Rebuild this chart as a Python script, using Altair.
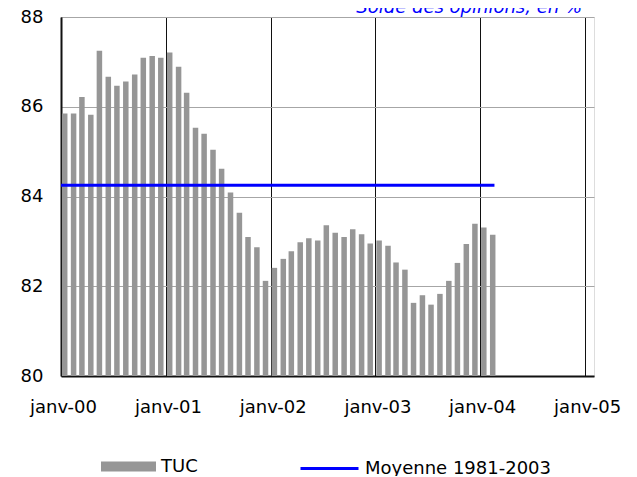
import altair as alt
import pandas as pd

# ---- data ----
months = [
    "2000-01-01", "2000-02-01", "2000-03-01", "2000-04-01", "2000-05-01", "2000-06-01",
    "2000-07-01", "2000-08-01", "2000-09-01", "2000-10-01", "2000-11-01", "2000-12-01",
    "2001-01-01", "2001-02-01", "2001-03-01", "2001-04-01", "2001-05-01", "2001-06-01",
    "2001-07-01", "2001-08-01", "2001-09-01", "2001-10-01", "2001-11-01", "2001-12-01",
    "2002-01-01", "2002-02-01", "2002-03-01", "2002-04-01", "2002-05-01", "2002-06-01",
    "2002-07-01", "2002-08-01", "2002-09-01", "2002-10-01", "2002-11-01", "2002-12-01",
    "2003-01-01", "2003-02-01", "2003-03-01", "2003-04-01", "2003-05-01", "2003-06-01",
    "2003-07-01", "2003-08-01", "2003-09-01", "2003-10-01", "2003-11-01", "2003-12-01",
    "2004-01-01", "2004-02-01",
]
tuc = [
    85.85, 85.85, 86.22, 85.82, 87.25, 86.67, 86.47, 86.56, 86.72, 87.09, 87.13, 87.09,
    87.21, 86.89, 86.31, 85.53, 85.40, 85.04, 84.62, 84.09, 83.64, 83.10, 82.87, 82.12,
    82.41, 82.61, 82.78, 82.98, 83.07, 83.02, 83.36, 83.19, 83.10, 83.27, 83.16, 82.95,
    83.02, 82.90, 82.53, 82.37, 81.63, 81.80, 81.59, 81.83, 82.12, 82.52, 82.94, 83.39,
    83.31, 83.15,
]
bar_series = "TUC"
avg_series = "Moyenne 1981-2003"
avg_value = [84.25]
avg_start = ["2000-01-01"]
avg_end = ["2004-02-20"]
y_ticks = [80, 82, 84, 86, 88]
x_tick_years = [2000, 2001, 2002, 2003, 2004, 2005]
title_text = "Solde des opinions, en %"

df = pd.DataFrame({"date": pd.to_datetime(months), "value": tuc, "serie": bar_series})
df_avg = pd.DataFrame({
    "start": pd.to_datetime(avg_start),
    "end": pd.to_datetime(avg_end),
    "value": avg_value,
    "serie": [avg_series],
})

FONT = "DejaVu Sans"
FS = 18

x_scale = alt.Scale(domain=[alt.DateTime(year=2000, month=1, date=1),
                            alt.DateTime(year=2005, month=2, date=1)],
                    padding=0)
y_scale = alt.Scale(domain=[80, 88], zero=False, nice=False, padding=0)

x_axis = alt.Axis(
    values=[alt.DateTime(year=y, month=1, date=1) for y in x_tick_years],
    labelExpr="'janv-' + timeFormat(datum.value, '%y')",
    title=None, grid=True, gridColor="#111111", gridWidth=1,
    ticks=False, tickSize=0, labelPadding=36, labelBaseline="alphabetic",
    labelAlign="center", labelFlush=False, labelOverlap=False, labelOffset=2,
    labelFont=FONT, labelFontSize=FS, labelColor="black",
    domainColor="#111111", domainWidth=2,
)
y_axis = alt.Axis(
    values=y_ticks, title=None, grid=True, gridColor="#a6a6a6", gridWidth=1,
    ticks=False, tickSize=0, labelPadding=18,
    labelFont=FONT, labelFontSize=FS, labelColor="black",
    domainColor="#111111", domainWidth=2,
)

bars = alt.Chart(df).mark_bar(width=5.5, xOffset=3.7).encode(
    x=alt.X("date:T", scale=x_scale, axis=x_axis),
    y=alt.Y("value:Q", scale=y_scale, axis=y_axis),
    y2=alt.datum(80),
    color=alt.Color(
        "serie:N",
        scale=alt.Scale(domain=[bar_series], range=["#969696"]),
        legend=alt.Legend(
            orient="none", legendX=40, legendY=422, title=None,
            symbolType="M-1,-0.18L1,-0.18L1,0.18L-1,0.18Z", symbolSize=3025,
            symbolStrokeWidth=0, labelFont=FONT, labelFontSize=FS,
            labelColor="black", labelOffset=5, padding=0, labelLimit=0,
        ),
    ),
)

avg = alt.Chart(df_avg).mark_rule(strokeWidth=3).encode(
    x=alt.X("start:T", scale=x_scale, axis=x_axis),
    x2="end:T",
    y=alt.Y("value:Q", scale=y_scale, axis=y_axis),
    stroke=alt.Stroke(
        "serie:N",
        scale=alt.Scale(domain=[avg_series], range=["#0000ff"]),
        legend=alt.Legend(
            orient="none", legendX=238, legendY=421, title=None,
            symbolType="stroke", symbolSize=3364, symbolStrokeWidth=3,
            labelFont=FONT, labelFontSize=FS, labelColor="black",
            labelOffset=5, padding=0, labelLimit=0,
        ),
    ),
)

chart = alt.layer(bars, avg).properties(
    width=533, height=359,
    autosize=alt.AutoSizeParams(type="none"),
    padding={"left": 53, "top": 9, "right": 33, "bottom": 100},
    title=alt.TitleParams(
        title_text, anchor="end", frame="group", font=FONT, fontSize=FS,
        fontStyle="italic", fontWeight="normal", color="#0000ff",
        baseline="alphabetic", offset=0, dx=-12, dy=23,
    ),
).configure_view(stroke="#808080", strokeWidth=2).configure(background="white")

chart.save("out.html", embed_options={"renderer": "svg", "actions": False})
